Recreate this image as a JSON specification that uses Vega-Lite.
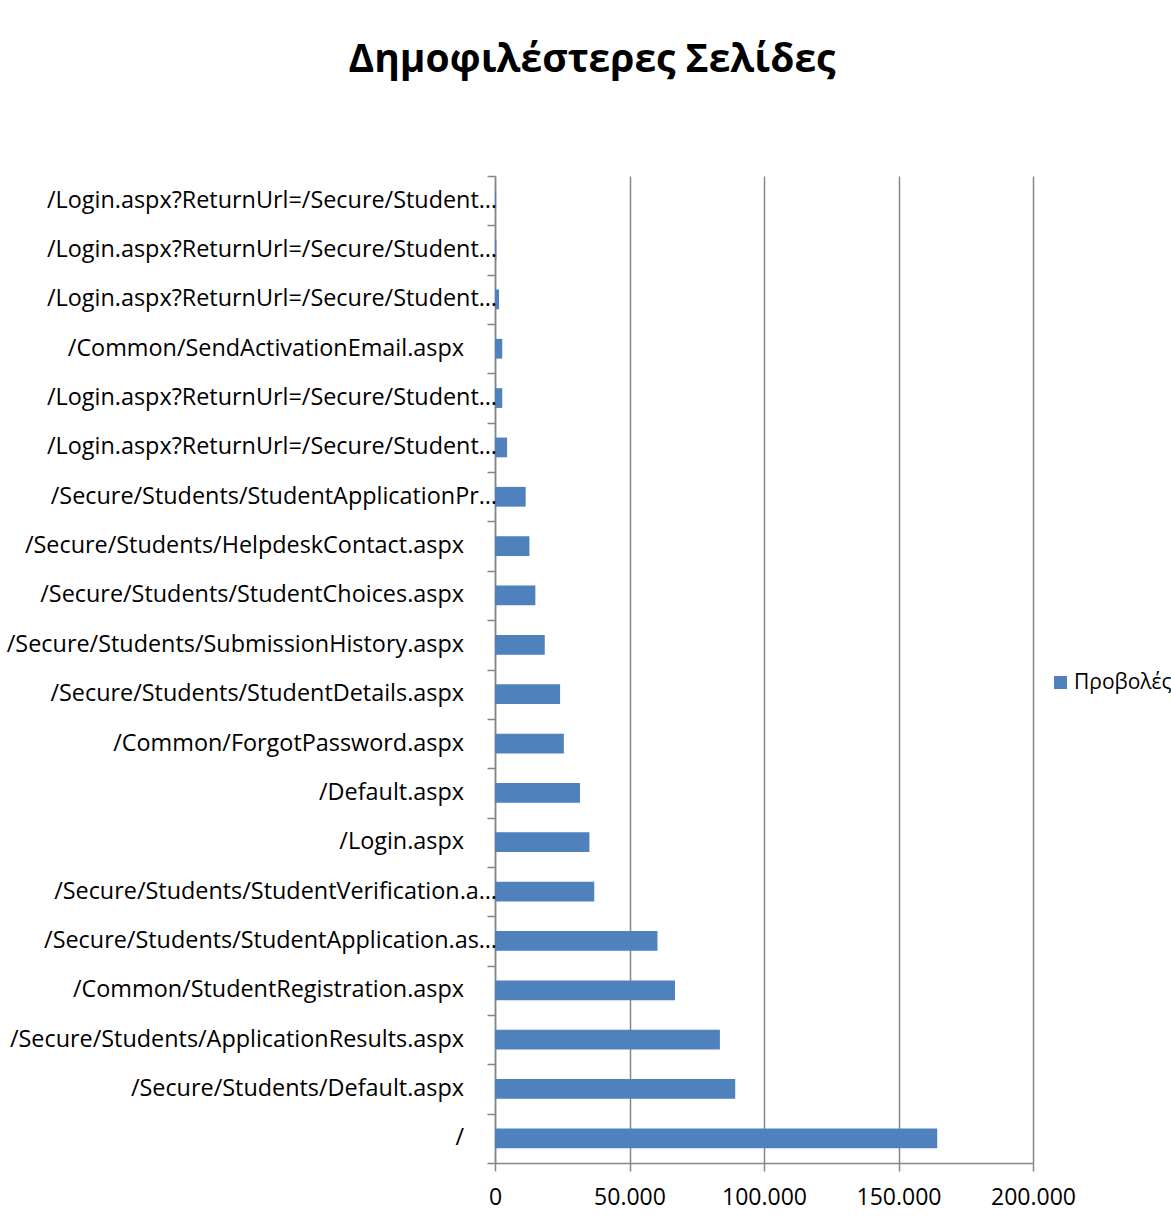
{
  "$schema": "https://vega.github.io/schema/vega-lite/v6.json",
  "width": 538,
  "height": 987,
  "autosize": {"type": "none"},
  "padding": {"left": 495, "top": 176, "right": 138, "bottom": 62},
  "background": "white",
  "title": {
    "text": "Δημοφιλέστερες Σελίδες",
    "font": "Open Sans",
    "fontSize": 39,
    "fontWeight": "bold",
    "color": "#000000",
    "anchor": "middle",
    "frame": "group",
    "dx": -172,
    "offset": 95
  },
  "config": {
    "locale": {"number": {"decimal": ",", "thousands": ".", "grouping": [3], "currency": ["", " €"]}},
    "view": {"stroke": null},
    "font": "Open Sans"
  },
  "data": {
    "values": [
      {"rank": 1, "label": "/", "views": 164400},
      {"rank": 2, "label": "/Secure/Students/Default.aspx", "views": 89300},
      {"rank": 3, "label": "/Secure/Students/ApplicationResults.aspx", "views": 83600},
      {"rank": 4, "label": "/Common/StudentRegistration.aspx", "views": 66900},
      {"rank": 5, "label": "/Secure/Students/StudentApplication.as…", "views": 60400},
      {"rank": 6, "label": "/Secure/Students/StudentVerification.a…", "views": 36900},
      {"rank": 7, "label": "/Login.aspx", "views": 35100},
      {"rank": 8, "label": "/Default.aspx", "views": 31600},
      {"rank": 9, "label": "/Common/ForgotPassword.aspx", "views": 25600},
      {"rank": 10, "label": "/Secure/Students/StudentDetails.aspx", "views": 24200},
      {"rank": 11, "label": "/Secure/Students/SubmissionHistory.aspx", "views": 18500},
      {"rank": 12, "label": "/Secure/Students/StudentChoices.aspx", "views": 15000},
      {"rank": 13, "label": "/Secure/Students/HelpdeskContact.aspx", "views": 12800},
      {"rank": 14, "label": "/Secure/Students/StudentApplicationPr…", "views": 11400},
      {"rank": 15, "label": "/Login.aspx?ReturnUrl=/Secure/Student…", "views": 4500},
      {"rank": 16, "label": "/Login.aspx?ReturnUrl=/Secure/Student…", "views": 2700},
      {"rank": 17, "label": "/Common/SendActivationEmail.aspx", "views": 2700},
      {"rank": 18, "label": "/Login.aspx?ReturnUrl=/Secure/Student…", "views": 1500},
      {"rank": 19, "label": "/Login.aspx?ReturnUrl=/Secure/Student…", "views": 500},
      {"rank": 20, "label": "/Login.aspx?ReturnUrl=/Secure/Student…", "views": 400}
    ]
  },
  "encoding": {
    "y": {
      "field": "rank",
      "type": "ordinal",
      "sort": "descending",
      "scale": {"paddingInner": 0, "paddingOuter": 0},
      "axis": {
        "title": null,
        "labels": false,
        "tickBand": "extent",
        "domainColor": "#868686",
        "domainWidth": 1.5,
        "tickColor": "#868686",
        "tickWidth": 1.5,
        "tickSize": 8,
        "grid": false
      }
    }
  },
  "layer": [
    {
      "mark": {"type": "bar", "color": "#4F81BD", "height": {"band": 0.4}},
      "encoding": {
        "x": {
          "field": "views",
          "type": "quantitative",
          "scale": {"domain": [0, 200000], "nice": false},
          "axis": {
            "title": null,
            "values": [0, 50000, 100000, 150000, 200000],
            "format": ",.0f",
            "grid": true,
            "gridColor": "#868686",
            "gridWidth": 1.5,
            "domainColor": "#868686",
            "domainWidth": 1.5,
            "tickColor": "#868686",
            "tickWidth": 1.5,
            "tickSize": 8,
            "labelFont": "Open Sans",
            "labelFontSize": 23,
            "labelColor": "#000000",
            "labelPadding": 15,
            "labelFlush": false
          }
        },
        "color": {
          "datum": "Προβολές",
          "type": "nominal",
          "scale": {"range": ["#4F81BD"]},
          "legend": {
            "title": null,
            "orient": "none",
            "legendX": 555,
            "legendY": 496,
            "symbolType": "square",
            "symbolSize": 170,
            "symbolStrokeWidth": 0,
            "labelFont": "Open Sans",
            "labelFontSize": 21,
            "labelColor": "#000000",
            "labelLimit": 300,
            "labelOffset": 3
          }
        }
      }
    },
    {
      "transform": [{"filter": "indexof(datum.label, '…') < 0"}],
      "mark": {"type": "text", "align": "right", "baseline": "middle", "dx": -31, "font": "Open Sans", "fontSize": 23.4, "color": "#000000"},
      "encoding": {
        "x": {"datum": 0, "type": "quantitative"},
        "text": {"field": "label"}
      }
    },
    {
      "transform": [{"filter": "indexof(datum.label, '…') >= 0"}],
      "mark": {"type": "text", "align": "right", "baseline": "middle", "dx": 2, "font": "Open Sans", "fontSize": 23.4, "color": "#000000"},
      "encoding": {
        "x": {"datum": 0, "type": "quantitative"},
        "text": {"field": "label"}
      }
    }
  ]
}
